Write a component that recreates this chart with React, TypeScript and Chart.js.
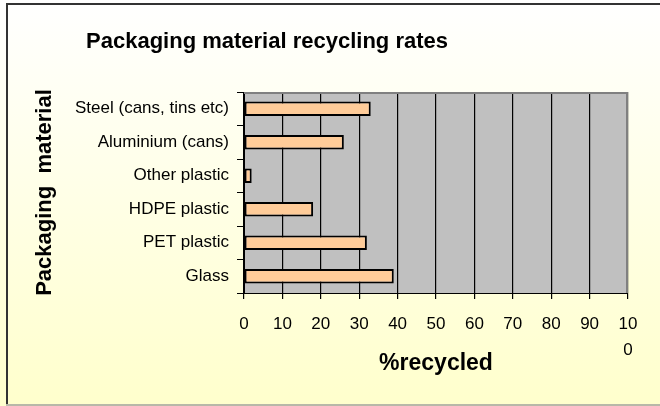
import React, { useEffect, useRef } from "react";
import { Chart, registerables } from "chart.js";

Chart.register(...registerables);

const categories = [
  "Steel (cans, tins etc)",
  "Aluminium (cans)",
  "Other plastic",
  "HDPE plastic",
  "PET plastic",
  "Glass",
];
const recycledPercent = [33, 26, 2, 18, 32, 39];
const xTickValues = [0, 10, 20, 30, 40, 50, 60, 70, 80, 90, 100];
const chartTitle = "Packaging material recycling rates";
const xAxisTitle = "%recycled";
const yAxisTitle = "Packaging  material";

const FONT = "'Liberation Sans', Arial, sans-serif";

const decorPlugin = {
  id: "decor",
  beforeDraw(chart: any) {
    const { ctx, width, height, chartArea } = chart;
    ctx.save();
    const g = ctx.createLinearGradient(0, 0, 0, height);
    g.addColorStop(0, "#FFFFFF");
    g.addColorStop(1, "#FFFFCC");
    ctx.fillStyle = g;
    ctx.fillRect(0, 0, width, height);
    // frame
    ctx.fillStyle = "#333333";
    ctx.fillRect(6, 3, 2, height - 3);
    ctx.fillRect(6, 3, width - 6, 2);
    ctx.fillStyle = "#B8B8A8";
    ctx.fillRect(6, height - 2, width - 6, 2);
    // plot area
    ctx.fillStyle = "#C0C0C0";
    ctx.fillRect(
      chartArea.left,
      chartArea.top,
      chartArea.right - chartArea.left,
      chartArea.bottom - chartArea.top
    );
    ctx.restore();
  },
  afterDraw(chart: any) {
    const { ctx, chartArea } = chart;
    ctx.save();
    ctx.strokeStyle = "#808080";
    ctx.lineWidth = 2;
    ctx.beginPath();
    ctx.moveTo(chartArea.left, chartArea.top + 1);
    ctx.lineTo(chartArea.right - 1, chartArea.top + 1);
    ctx.lineTo(chartArea.right - 1, chartArea.bottom);
    ctx.stroke();
    ctx.fillStyle = "#000000";
    ctx.font = `bold 22px ${FONT}`;
    ctx.textAlign = "center";
    ctx.textBaseline = "middle";
    ctx.fillText(chartTitle, 267, 42);
    ctx.restore();
  },
};

export default function App() {
  const ref = useRef<HTMLCanvasElement | null>(null);
  useEffect(() => {
    if (!ref.current) return;
    const chart = new Chart(ref.current, {
      type: "bar",
      data: {
        labels: categories,
        datasets: [
          {
            data: recycledPercent,
            backgroundColor: "#FFCC99",
            borderColor: "#000000",
            borderWidth: 2,
            borderSkipped: false,
            barPercentage: 0.88,
            categoryPercentage: 0.5,
          },
        ],
      },
      options: {
        indexAxis: "y",
        responsive: false,
        animation: false,
        layout: { padding: { left: 30, right: 32, top: 92, bottom: 20 } },
        plugins: {
          legend: { display: false },
          tooltip: { enabled: false },
          title: { display: false },
        },
        scales: {
          x: {
            type: "linear",
            min: 0,
            max: 100,
            afterBuildTicks(scale: any) {
              scale.ticks = xTickValues.map((v) => ({ value: v }));
            },
            afterFit(scale: any) {
              scale.height = 406 - 20 - 293;
            },
            ticks: {
              color: "#000000",
              padding: 12,
              font: { family: FONT, size: 17, lineHeight: 1.55 },
              maxRotation: 0,
              autoSkip: false,
              callback: (v: any) => (v === 100 ? ["10", "0"] : String(v)),
            },
            grid: {
              color: "#000000",
              lineWidth: 1.2,
              tickLength: 6,
              drawOnChartArea: true,
            },
            border: { display: true, color: "#000000", width: 1 },
            title: {
              display: true,
              text: xAxisTitle,
              color: "#000000",
              font: { family: FONT, size: 23, weight: "bold", lineHeight: 1.2 },
              padding: { top: 0, bottom: 9 },
            },
          },
          y: {
            type: "category",
            afterFit(scale: any) {
              scale.width = 244 - 30;
            },
            ticks: {
              color: "#000000",
              padding: 8,
              font: { family: FONT, size: 17 },
            },
            grid: {
              drawOnChartArea: false,
              drawTicks: true,
              tickLength: 7,
              color: "#000000",
              offset: true,
            },
            border: { display: true, color: "#000000", width: 1 },
            title: {
              display: true,
              text: yAxisTitle,
              color: "#000000",
              font: { family: FONT, size: 22, weight: "bold", lineHeight: 1.2 },
              padding: { top: 2, bottom: 0 },
            },
          },
        },
      },
      plugins: [decorPlugin],
    } as any);
    return () => chart.destroy();
  }, []);
  return (
    <div style={{ position: "fixed", left: 0, top: 0, width: 660, height: 406 }}>
      <canvas ref={ref} width={660} height={406} style={{ width: 660, height: 406 }} />
    </div>
  );
}
